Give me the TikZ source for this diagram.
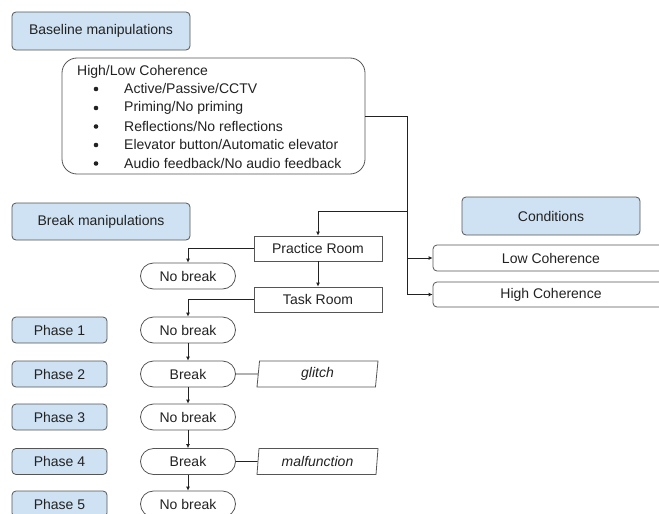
\documentclass[tikz,border=0pt]{standalone}
\usepackage{fontspec}
\setmainfont{Liberation Sans}
\usetikzlibrary{arrows.meta,shapes.geometric}
\definecolor{hdrfill}{HTML}{CFE2F3}
\definecolor{bordr}{HTML}{555555}
\definecolor{txt}{HTML}{222222}
\begin{document}
\begin{tikzpicture}[x=1pt,y=-1pt,
  every node/.style={font=\fontsize{14}{17}\selectfont, text=txt, inner sep=0pt},
  hdr/.style={draw=bordr, fill=hdrfill, rounded corners=4pt, line width=0.8pt},
  roombox/.style={draw=bordr, line width=0.8pt},
  condbox/.style={draw=bordr, rounded corners=4pt, line width=0.8pt},
  pill/.style={draw=bordr, rounded corners=13pt, line width=0.8pt},
  bul/.style={circle, fill=txt, minimum size=4.6pt},
  slantbox/.style={draw=bordr, trapezium, trapezium left angle=79, trapezium right angle=101, trapezium stretches body, line width=0.8pt, font=\fontsize{14}{17}\selectfont\itshape},
  conn/.style={draw=txt, line width=0.8pt},
  arr/.style={conn, -{Latex[length=4pt,width=4pt]}}
]
\clip (0,0) rectangle (659,514);
\fill[white] (0,0) rectangle (659,514);

% headers
\node[hdr, minimum width=178pt, minimum height=38pt] (base) at (101,31) {Baseline manipulations};
\node[hdr, minimum width=178pt, minimum height=37pt] (brk) at (101,221.5) {Break manipulations};
\node[hdr, minimum width=178pt, minimum height=38pt] (cond) at (551,216) {Conditions};

% coherence box
\node[draw=bordr, rounded corners=15pt, line width=0.8pt, minimum width=303pt, minimum height=116pt] (coh) at (213.5,116) {};
\node[anchor=west] (t0) at (77,72) {High/Low Coherence};
\node[bul] (b1) at (96,89) {};
\node[bul] (b2) at (96,108) {};
\node[bul] (b3) at (96,126.5) {};
\node[bul] (b4) at (96,145) {};
\node[bul] (b5) at (96,163.5) {};
\node[anchor=west] (t1) at (124,88.5) {Active/Passive/CCTV};
\node[anchor=west] (t2) at (124,107.5) {Priming/No priming};
\node[anchor=west] (t3) at (124,126) {Reflections/No reflections};
\node[anchor=west] (t4) at (124,144.5) {Elevator button/Automatic elevator};
\node[anchor=west] (t5) at (124,163) {Audio feedback/No audio feedback};

% rooms
\node[roombox, minimum width=128pt, minimum height=25pt] (prac) at (318,248.5) {Practice Room};
\node[roombox, minimum width=128pt, minimum height=25pt] (task) at (318,299.5) {Task Room};

% conditions
\node[condbox, minimum width=234pt, minimum height=26pt] (low) at (550,258) {};
\node (lowt) at (551,258) {Low Coherence};
\node[condbox, minimum width=234pt, minimum height=25pt] (high) at (550,294.5) {};
\node (hight) at (551,294.5) {High Coherence};

% phases
\node[hdr, minimum width=95pt, minimum height=26pt] (p1) at (59.5,330) {Phase 1};
\node[hdr, minimum width=95pt, minimum height=26pt] (p2) at (59.5,374) {Phase 2};
\node[hdr, minimum width=95pt, minimum height=26pt] (p3) at (59.5,417) {Phase 3};
\node[hdr, minimum width=95pt, minimum height=26pt] (p4) at (59.5,461.5) {Phase 4};
\node[hdr, minimum width=95pt, minimum height=26pt] (p5) at (59.5,504) {Phase 5};

% pills
\node[pill, minimum width=95pt, minimum height=26pt] (nb0) at (188,276) {No break};
\node[pill, minimum width=95pt, minimum height=26pt] (nb1) at (188,330) {No break};
\node[pill, minimum width=95pt, minimum height=26pt] (br2) at (188,374) {Break};
\node[pill, minimum width=95pt, minimum height=26pt] (nb3) at (188,417) {No break};
\node[pill, minimum width=95pt, minimum height=26pt] (br4) at (188,461.5) {Break};
\node[pill, minimum width=95pt, minimum height=26pt] (nb5) at (188,504) {No break};

% slanted
\node[slantbox, minimum width=121pt, minimum height=26pt] (gl) at (317.5,374) {glitch};
\node[slantbox, minimum width=121pt, minimum height=26pt] (mf) at (317.5,461.5) {malfunction};

% connectors
\coordinate (j1) at (407,211);
\draw[conn] (coh.east) -| (j1);
\draw[arr] (j1) -| (prac.north);
\draw[arr] (j1) |- (low.west);
\draw[arr] (j1) |- (high.west);
\draw[arr] (prac.west) -| (nb0.north);
\draw[arr] (prac.south) -- (task.north);
\draw[arr] (task.west) -| (nb1.north);
\draw[arr] (nb1.south) -- (br2.north);
\draw[arr] (br2.south) -- (nb3.north);
\draw[arr] (nb3.south) -- (br4.north);
\draw[arr] (br4.south) -- (nb5.north);
\draw[conn] (br2.east) -- (gl.west);
\draw[conn] (br4.east) -- (mf.west);
\end{tikzpicture}
\end{document}
